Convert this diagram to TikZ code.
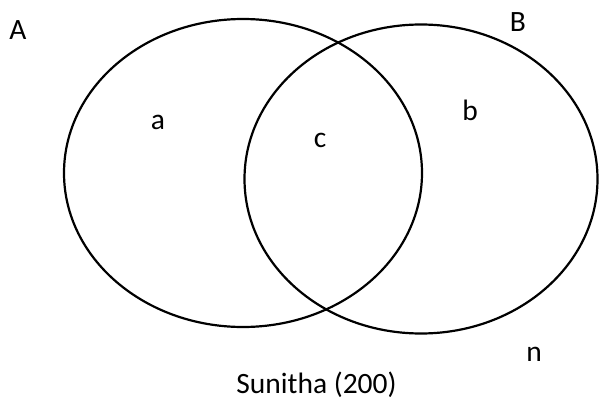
\documentclass[tikz,border=0pt]{standalone}
\usepackage{fontspec}
\setmainfont{Carlito}
\begin{document}
\begin{tikzpicture}[x=1pt,y=-1pt,
  setline/.style={draw=black,line width=2.2pt},
  lbl/.style={anchor=base,inner sep=0pt,font=\fontsize{29.5}{33}\selectfont}]
\useasboundingbox (0,0) rectangle (599,401);
\draw[setline] (243,173) ellipse [x radius=179, y radius=154];
\draw[setline] (421,179) ellipse [x radius=176.5, y radius=154.5];
\node[lbl] (A) at (18,40) {A};
\node[lbl] (B) at (518,32) {B};
\node[lbl] (a) at (158,129) {a};
\node[lbl] (b) at (470,121) {b};
\node[lbl] (c) at (320,147) {c};
\node[lbl] (n) at (534,361) {n};
\node[lbl] (s) at (316.5,393) {Sunitha (200)};
\end{tikzpicture}
\end{document}
